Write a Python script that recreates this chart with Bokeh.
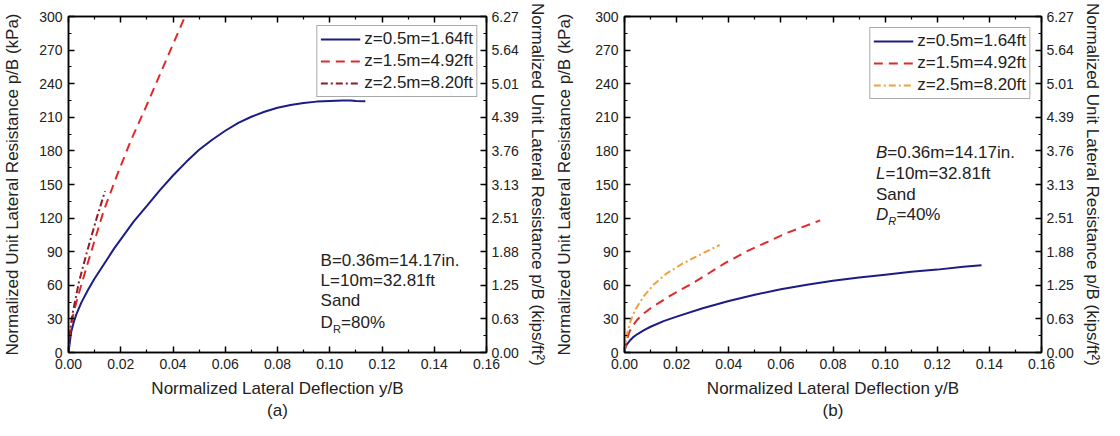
from bokeh.plotting import figure
from bokeh.models import (Range1d, LinearAxis, FixedTicker, NumeralTickFormatter,
                          Legend, LegendItem, Label, Title)
from bokeh.layouts import row
from bokeh.embed import file_html
from bokeh.resources import INLINE

# ---------------- data ----------------
x_ticks = [0.00, 0.02, 0.04, 0.06, 0.08, 0.10, 0.12, 0.14, 0.16]
x_minor = [0.01, 0.03, 0.05, 0.07, 0.09, 0.11, 0.13, 0.15]
kpa_ticks = [0, 30, 60, 90, 120, 150, 180, 210, 240, 270, 300]
kpa_minor = [15, 45, 75, 105, 135, 165, 195, 225, 255, 285]
ksf_labels = ["0.00", "0.63", "1.25", "1.88", "2.51", "3.13", "3.76", "4.39", "5.01", "5.64", "6.27"]
series_names = ["z=0.5m=1.64ft", "z=1.5m=4.92ft", "z=2.5m=8.20ft"]

# panel (a) Dr = 80%
a_z05_x = [0, 0.001, 0.002, 0.003, 0.005, 0.0075, 0.01, 0.0125, 0.015, 0.0175, 0.02, 0.025,
           0.03, 0.035, 0.04, 0.045, 0.05, 0.055, 0.06, 0.065, 0.07, 0.075, 0.08, 0.085,
           0.09, 0.095, 0.10, 0.105, 0.108, 0.110, 0.1136]
a_z05_y = [0, 18, 27, 34, 45, 56, 66, 75, 84, 93, 101, 117,
           131, 145, 158, 170, 181, 190, 198, 205, 210.5, 215, 218.5, 221,
           222.8, 224, 224.6, 224.9, 225, 224.5, 224.3]
a_z15_x = [0, 0.0005, 0.001, 0.002, 0.0035, 0.005, 0.007, 0.01, 0.0134, 0.0187, 0.024,
           0.0296, 0.0359, 0.0446]
a_z15_y = [0, 15, 24, 36, 49, 61, 77, 100, 126, 159, 190, 219, 253, 300]
a_z25_x = [0, 0.0005, 0.0015, 0.004, 0.0071, 0.0109, 0.014]
a_z25_y = [0, 18, 34, 63, 90, 121, 144]

# panel (b) Dr = 40%
b_z05_x = [0, 0.0002, 0.0005, 0.001, 0.002, 0.0035, 0.005, 0.0075, 0.01, 0.015, 0.02, 0.03,
           0.04, 0.05, 0.06, 0.07, 0.08, 0.09, 0.10, 0.11, 0.12, 0.13, 0.137]
b_z05_y = [0, 3.5, 5.5, 7.5, 10.5, 14, 16.5, 20, 23, 28, 32, 39.5,
           46, 51.5, 56.5, 60.5, 64, 67, 69.5, 72, 74, 76.5, 78]
b_z15_x = [0, 0.0005, 0.001, 0.002, 0.0035, 0.005, 0.0075, 0.01, 0.0174, 0.0255, 0.0325,
           0.0387, 0.0475, 0.0551, 0.0626, 0.0751]
b_z15_y = [0, 8, 12.5, 19, 25, 29.5, 35, 39.5, 50.5, 61, 71, 80, 91, 99, 107, 118]
b_z25_x = [0, 0.0008, 0.0023, 0.0042, 0.0073, 0.0111, 0.0161, 0.0224, 0.0287, 0.0365]
b_z25_y = [0, 15, 28, 38.5, 50, 60.5, 70.5, 79.5, 87, 96]

FONT = "Liberation Sans"
BLUE = "#1c1c86"
RED = "#e02a2a"


def style_axis(ax, ticks, minor, show_labels=True):
    ax.ticker = FixedTicker(ticks=ticks, minor_ticks=minor)
    ax.major_tick_in = 6
    ax.major_tick_out = 0
    ax.minor_tick_in = 3
    ax.minor_tick_out = 0
    ax.axis_line_width = 1.5
    ax.major_tick_line_width = 1.5
    ax.minor_tick_line_width = 1.2
    ax.axis_line_color = "black"
    ax.major_label_text_font = FONT
    ax.major_label_text_font_size = "14px" if show_labels else "0px"
    ax.major_label_text_color = "#222222"
    ax.major_label_standoff = 5
    ax.axis_label_text_font = FONT
    ax.axis_label_text_font_size = "17px"
    ax.axis_label_text_font_style = "normal"
    ax.axis_label_text_color = "#222222"


def make_panel(tag, width, bl, br, ylab_standoff, leg_margin, series, colors, dashes,
               notes, note_y, italic):
    p = figure(width=width, height=420, output_backend="svg", toolbar_location=None,
               x_range=Range1d(0, 0.16), y_range=Range1d(0, 300),
               min_border_left=bl, min_border_right=br, min_border_top=16, min_border_bottom=68)
    p.grid.visible = False
    p.outline_line_color = "black"
    p.outline_line_width = 1.5
    p.background_fill_color = "white"
    p.border_fill_color = "white"

    xa = p.xaxis[0]
    style_axis(xa, x_ticks, x_minor)
    xa.formatter = NumeralTickFormatter(format="0.00")
    xa.axis_label = "Normalized Lateral Deflection y/B"
    xa.major_label_standoff = 6
    xa.axis_label_standoff = 7

    ya = p.yaxis[0]
    style_axis(ya, kpa_ticks, kpa_minor)
    ya.major_label_standoff = 6
    ya.axis_label = "Normalized Unit Lateral Resistance p/B (kPa)"
    ya.axis_label_standoff = ylab_standoff

    ra = LinearAxis()
    style_axis(ra, kpa_ticks, kpa_minor)
    ra.major_label_overrides = {t: s for t, s in zip(kpa_ticks, ksf_labels)}
    ra.axis_label = "Normalized Unit Lateral Resistance p/B (kips/ft²)"
    ra.axis_label_standoff = 6
    p.add_layout(ra, "right")

    ta = LinearAxis()
    style_axis(ta, x_ticks, x_minor, show_labels=False)
    ta.major_label_text_color = None
    p.add_layout(ta, "above")

    items = []
    for (xs, ys), c, d, name in zip(series, colors, dashes, series_names):
        r = p.line(xs, ys, line_color=c, line_width=2, line_dash=d)
        items.append(LegendItem(label=name, renderers=[r]))
    leg = Legend(items=items, location="top_right", margin=leg_margin,
                 label_text_font=FONT, label_text_font_size="17px", label_text_color="#222222",
                 glyph_width=40, glyph_height=20, label_height=20, spacing=2, padding=3,
                 label_standoff=4, border_line_color="#555555", border_line_width=1,
                 background_fill_alpha=1.0)
    p.add_layout(leg)

    style = "italic" if italic else "normal"
    nx = 0.0965
    widths = {"B": 11.3, "L": 9.5}
    for key, rest, yv in [("B", "=0.36m=14.17in.", note_y[0]), ("L", "=10m=32.81ft", note_y[1])]:
        p.add_layout(Label(x=nx, y=yv, text=key, text_font=FONT, text_font_size="17px",
                           text_font_style=style, text_baseline="middle", text_color="#222222"))
        p.add_layout(Label(x=nx, y=yv, x_offset=widths[key], text=rest, text_font=FONT,
                           text_font_size="17px", text_baseline="middle", text_color="#222222"))
    p.add_layout(Label(x=nx, y=note_y[2], text="Sand", text_font=FONT, text_font_size="17px",
                       text_baseline="middle", text_color="#222222"))
    p.add_layout(Label(x=nx, y=note_y[3], text="D", text_font=FONT, text_font_size="17px",
                       text_font_style=style, text_baseline="middle", text_color="#222222"))
    p.add_layout(Label(x=nx, y=note_y[3], x_offset=12.3, y_offset=-6, text="R", text_font=FONT,
                       text_font_size="11px", text_font_style=style, text_baseline="middle",
                       text_color="#222222"))
    p.add_layout(Label(x=nx, y=note_y[3], x_offset=20.5, text=notes, text_font=FONT,
                       text_font_size="17px", text_baseline="middle", text_color="#222222"))

    p.add_layout(Title(text=tag, align="center", text_font=FONT, text_font_size="17px",
                       text_font_style="normal", text_color="#222222", standoff=-4, offset=0),
                 "below")
    return p


p1 = make_panel("(a)", 552, 66, 66, 14, 9,
                [(a_z05_x, a_z05_y), (a_z15_x, a_z15_y), (a_z25_x, a_z25_y)],
                [BLUE, RED, "#8e1c24"], ["solid", "9 6", "7 3 2 3"],
                "=80%", [82, 64.5, 46, 26.5], False)
p2 = make_panel("(b)", 552, 70, 62, 18, 11,
                [(b_z05_x, b_z05_y), (b_z15_x, b_z15_y), (b_z25_x, b_z25_y)],
                [BLUE, RED, "#eea23a"], ["solid", "9 6", "7 3 2 3"],
                "=40%", [179, 160, 141.5, 123], True)

layout = row(p1, p2)
open("out.html", "w").write(file_html(layout, INLINE))
